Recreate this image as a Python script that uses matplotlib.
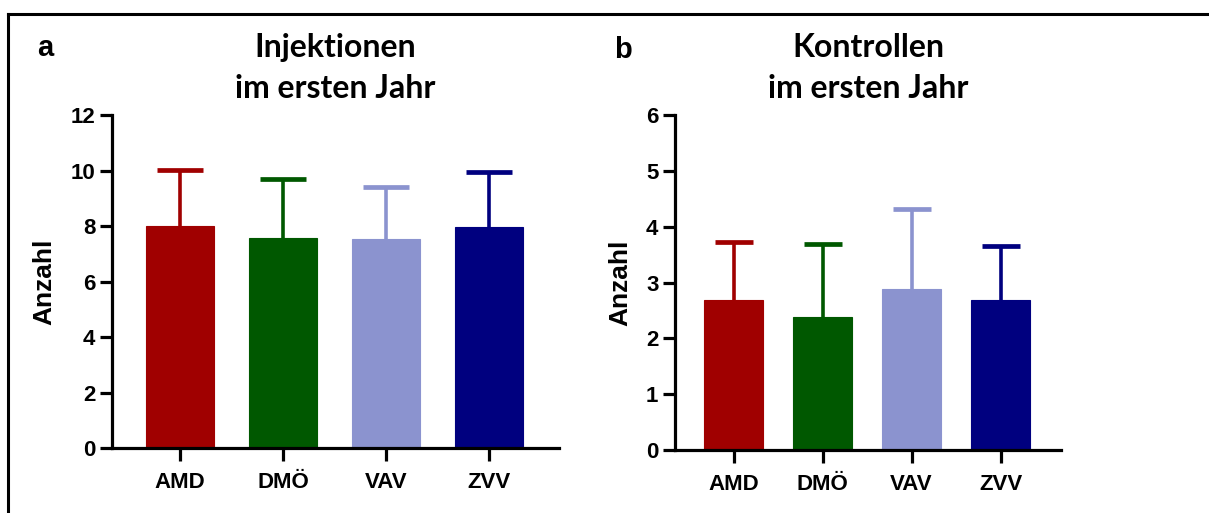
import matplotlib.pyplot as plt
from matplotlib.lines import Line2D

# data
groups = ['AMD', 'DMÖ', 'VAV', 'ZVV']
colors = ['#A00000', '#005800', '#8B93CF', '#00007F']

inj_mean = [8.0, 7.56, 7.55, 7.95]
inj_sd = [2.03, 2.13, 1.85, 1.99]

kon_mean = [2.69, 2.38, 2.89, 2.69]
kon_sd = [1.04, 1.31, 1.42, 0.97]

tick_font = 'Liberation Sans'
title_font = 'Lato'


def draw_panel(ax, means, sds, ymax, ystep, title, letter, capsize, lx, ly):
	x = list(range(len(groups)))
	# symmetric bars drawn behind the columns -> only upper half shows
	for i in x:
		ax.errorbar(i, means[i], yerr=sds[i], fmt='none', ecolor=colors[i],
			elinewidth=2.6, capsize=capsize, capthick=3.4, zorder=1)
	ax.bar(x, means, width=0.66, color=colors, edgecolor=colors, linewidth=0.8, zorder=2)
	ax.set_xlim(-0.66, len(groups) - 1 + 0.68)
	ax.set_ylim(0, ymax)
	ax.set_yticks(range(0, ymax + 1, ystep))
	ax.set_xticks(x)
	ax.set_xticklabels(groups)
	for s in ['top', 'right']:
		ax.spines[s].set_visible(False)
	for s in ['left', 'bottom']:
		ax.spines[s].set_linewidth(2.3)
	ax.spines['left'].set_zorder(3)
	ax.tick_params(axis='y', direction='out', length=9, width=2.3, pad=3)
	ax.tick_params(axis='x', direction='out', length=9, width=2.3, pad=8)
	for lab in ax.get_xticklabels() + ax.get_yticklabels():
		lab.set_family(tick_font)
		lab.set_fontweight('bold')
		lab.set_fontsize(16)
	ax.set_ylabel('Anzahl', fontsize=19, fontweight='bold', family=tick_font, labelpad=10)
	ax.set_title(title, fontsize=23, fontweight='bold', family=title_font, pad=12, linespacing=1.5)
	ax.text(lx, ly, letter, transform=ax.transAxes, fontsize=21, fontweight='bold',
		family='Liberation Sans', va='center', ha='left')


fig = plt.figure(figsize=(12.09, 5.13), dpi=100)
ax1 = fig.add_axes([0.0926, 0.1267, 0.3697, 0.649])
ax2 = fig.add_axes([0.5583, 0.1228, 0.3193, 0.653])

draw_panel(ax1, inj_mean, inj_sd, 12, 2, 'Injektionen\nim ersten Jahr', 'a', 16.5, -0.168, 1.2)
draw_panel(ax2, kon_mean, kon_sd, 6, 1, 'Kontrollen\nim ersten Jahr', 'b', 14, -0.157, 1.195)

# frame around figure (top and left edges)
fig.add_artist(Line2D([0.0066, 1.0], [0.973, 0.973], color='black', linewidth=2.2, transform=fig.transFigure))
fig.add_artist(Line2D([0.0066, 0.0066], [0.0, 0.973], color='black', linewidth=2.2, transform=fig.transFigure))

plt.savefig('out.png', dpi=100)
